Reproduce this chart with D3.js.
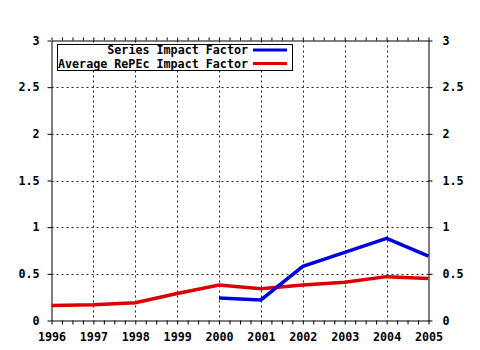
<!DOCTYPE html>
<html>
<head>
<meta charset="utf-8">
<script src="https://cdn.jsdelivr.net/npm/d3@7"></script>
<style>
  body { margin: 0; background: #fff; }
  text { font-family: "DejaVu Sans Mono", monospace; font-weight: bold; font-size: 11.7px; fill: #000; }
</style>
</head>
<body>
<div id="chart"></div>
<script>
// Data
const years = [1996, 1997, 1998, 1999, 2000, 2001, 2002, 2003, 2004, 2005];
const seriesImpact = [null, null, null, null, 0.24, 0.22, 0.58, 0.73, 0.88, 0.69];
const averageImpact = [0.16, 0.17, 0.19, 0.29, 0.38, 0.34, 0.38, 0.41, 0.47, 0.45];
const yTicks = [0, 0.5, 1, 1.5, 2, 2.5, 3];
const seriesNames = ["Series Impact Factor", "Average RePEc Impact Factor"];
const seriesColors = ["#0000dd", "#dd0000"];

const width = 480;
const height = 350;
const marginTop = 40.5;
const marginRight = 51.5;
const marginBottom = 29.5;
const marginLeft = 51.5;

const x = d3.scaleLinear()
  .domain([1996, 2005])
  .range([marginLeft, width - marginRight]);

const y = d3.scaleLinear()
  .domain([0, 3])
  .range([height - marginBottom, marginTop]);

const svg = d3.select("#chart").append("svg")
  .attr("width", width)
  .attr("height", height)
  .attr("viewBox", [0, 0, width, height]);

// Dotted grid
const grid = svg.append("g")
  .attr("stroke", "#222")
  .attr("stroke-width", 1)
  .attr("stroke-dasharray", "2,3");

grid.selectAll("line.v")
  .data(years.slice(1, -1))
  .join("line")
  .attr("class", "v")
  .attr("x1", d => Math.round(x(d)) + 0.5)
  .attr("x2", d => Math.round(x(d)) + 0.5)
  .attr("y1", y(3))
  .attr("y2", y(0));

grid.selectAll("line.h")
  .data(yTicks.slice(1, -1))
  .join("line")
  .attr("class", "h")
  .attr("x1", x(1996))
  .attr("x2", x(2005))
  .attr("y1", d => Math.round(y(d)) + 0.5)
  .attr("y2", d => Math.round(y(d)) + 0.5);

// Axes
const minor = d3.range(1996, 2005.001, 0.25);

svg.append("g")
  .attr("transform", `translate(0,${y(0)})`)
  .call(d3.axisBottom(x).tickValues(minor).tickSize(4).tickSizeOuter(0).tickFormat(""))
  .call(g => g.selectAll("path, line").attr("stroke", "#000"));

svg.append("g")
  .attr("transform", `translate(0,${y(0)})`)
  .call(d3.axisBottom(x).tickValues(years).tickSize(0).tickPadding(12).tickFormat(d3.format("d")))
  .call(g => g.select(".domain").remove())
  .call(g => g.selectAll("text").attr("font-size", null).attr("font-family", null));

svg.append("g")
  .attr("transform", `translate(0,${y(3)})`)
  .call(d3.axisTop(x).tickValues(minor).tickSize(3).tickSizeOuter(0).tickFormat(""))
  .call(g => g.selectAll("path, line").attr("stroke", "#000"));

svg.append("g")
  .attr("transform", `translate(${x(1996)},0)`)
  .call(d3.axisLeft(y).tickValues(yTicks).tickSize(4).tickSizeOuter(0).tickPadding(8).tickFormat(d => String(d)))
  .call(g => g.selectAll("path, line").attr("stroke", "#000"))
  .call(g => g.selectAll("text").attr("font-size", null).attr("font-family", null));

svg.append("g")
  .attr("transform", `translate(${x(2005)},0)`)
  .call(d3.axisRight(y).tickValues(yTicks).tickSize(4).tickSizeOuter(0).tickPadding(10).tickFormat(d => String(d)))
  .call(g => g.selectAll("path, line").attr("stroke", "#000"))
  .call(g => g.selectAll("text").attr("font-size", null).attr("font-family", null));

// Lines
const line = d3.line()
  .defined(d => d[1] != null)
  .x(d => x(d[0]))
  .y(d => y(d[1]));

[averageImpact, seriesImpact].forEach((vals, i) => {
  svg.append("path")
    .datum(years.map((yr, j) => [yr, vals[j]]))
    .attr("fill", "none")
    .attr("stroke", i === 0 ? seriesColors[1] : seriesColors[0])
    .attr("stroke-width", 3.5)
    .attr("d", line);
});

// Legend
const legend = svg.append("g");
legend.append("rect")
  .attr("x", 57.5)
  .attr("y", 44.5)
  .attr("width", 235)
  .attr("height", 26)
  .attr("fill", "#fff")
  .attr("stroke", "#000");

svg.append("clipPath").attr("id", "legclip")
  .append("rect").attr("x", 58).attr("y", 45).attr("width", 234).attr("height", 25);

seriesNames.forEach((name, i) => {
  const ly = 50 + i * 13.5;
  legend.append("text")
    .attr("clip-path", "url(#legclip)")
    .attr("x", 248)
    .attr("y", ly)
    .attr("dy", "0.35em")
    .attr("text-anchor", "end")
    .text(name);
  legend.append("line")
    .attr("x1", 253)
    .attr("x2", 287)
    .attr("y1", ly)
    .attr("y2", ly)
    .attr("stroke", seriesColors[i])
    .attr("stroke-width", 3);
});
</script>
</body>
</html>
